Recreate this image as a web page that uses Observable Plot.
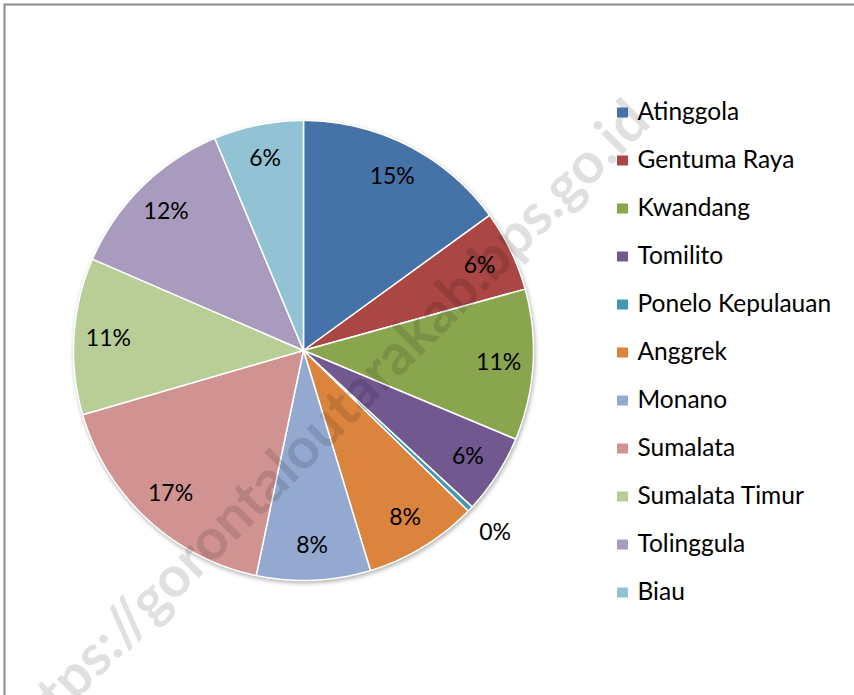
<!DOCTYPE html>
<html><head><meta charset="utf-8">
<script src="https://cdn.jsdelivr.net/npm/d3@7"></script>
<script src="https://cdn.jsdelivr.net/npm/@observablehq/plot@0.6"></script>
<style>body{margin:0;background:#fff;} #chart{width:854px;height:695px;overflow:hidden;}</style>
</head><body><div id="chart"></div>
<script>
// Data (share per kecamatan)
const names = ["Atinggola","Gentuma Raya","Kwandang","Tomilito","Ponelo Kepulauan","Anggrek","Monano","Sumalata","Sumalata Timur","Tolinggula","Biau"];
const values = [15.0, 5.7, 10.6, 5.6, 0.4, 8.0, 8.0, 17.2, 11.0, 12.2, 6.3];
const colors = ["#4572A7","#AA4643","#89A54E","#71588F","#4198AF","#DB843D","#93A9CF","#D19392","#B9CD96","#A99BBD","#92C3D5"];
const watermark = "https://gorontaloutarakab.bps.go.id";

const W = 854, H = 695, cx = 303, cy = 350, R = 230;
const arcs = d3.pie().sort(null).value(d => d)(values);
const total = d3.sum(values);
const slicePts = [];
arcs.forEach((a, i) => {
  const n = Math.max(2, Math.ceil((a.endAngle - a.startAngle) / (Math.PI / 360)));
  slicePts.push({name: names[i], x: cx, y: cy});
  for (let k = 0; k <= n; k++) {
    const t = a.startAngle + (a.endAngle - a.startAngle) * k / n;
    slicePts.push({name: names[i], x: cx + R * Math.sin(t), y: cy - R * Math.cos(t)});
  }
  slicePts.push({name: names[i], x: cx, y: cy});
});
const labels = arcs.map((a, i) => {
  const m = (a.startAngle + a.endAngle) / 2;
  const pct = values[i] / total * 100;
  const rr = pct < 1 ? R * 1.15 : R * 0.85;
  return {x: cx + rr * Math.sin(m), y: cy - rr * Math.cos(m), text: Math.round(pct) + "%"};
});
const legend = names.map((n, i) => ({name: n, y: 111.5 + i * 48}));

const plot = Plot.plot({
  width: W, height: H, margin: 0, inset: 0,
  x: {domain: [0, W], range: [0, W], axis: null},
  y: {domain: [0, H], range: [0, H], axis: null},
  color: {domain: names, range: colors},
  style: {fontFamily: "Lato", background: "white"},
  marks: [
    Plot.frame({stroke: "#8c8c8c", strokeWidth: 2, insetLeft: 4, insetTop: 4, insetRight: -10, insetBottom: -10}),
    Plot.line(slicePts, {x: "x", y: "y", z: "name", fill: "name", stroke: "white", strokeWidth: 1.5, strokeLinejoin: "round", curve: "linear"}),
    Plot.text([watermark], {x: 325, y: 425, text: d => d, rotate: -45, fontSize: 57, fontWeight: "bold", fill: "black", fillOpacity: 0.12}),
    Plot.text(labels, {x: "x", y: "y", text: "text", fontSize: 23, fill: "black"}),
    Plot.rect(legend, {x1: 617, x2: 628, y1: d => d.y - 4, y2: d => d.y + 6, fill: "name"}),
    Plot.text(legend, {x: 637, y: "y", text: "name", textAnchor: "start", fontSize: 24.5, fill: "black"})
  ]
});
const g = plot.querySelector('g[aria-label="line"]');
if (g) g.style.filter = "drop-shadow(1px 2px 2px rgba(0,0,0,0.3))";
document.getElementById("chart").appendChild(plot);
</script>
</body></html>
